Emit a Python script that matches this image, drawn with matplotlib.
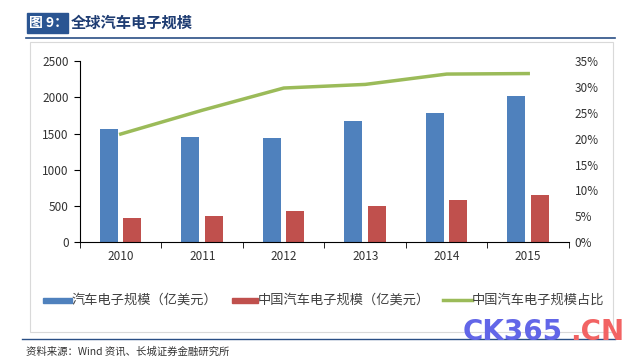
import numpy as np
import matplotlib.pyplot as plt
from matplotlib.patches import Rectangle
from matplotlib.lines import Line2D

plt.rcParams['font.family'] = ['Noto Sans CJK SC', 'DejaVu Sans']

# datos
anios = ['2010', '2011', '2012', '2013', '2014', '2015']
global_auto = [1565, 1446, 1440, 1671, 1777, 2016]
china_auto = [327, 363, 428, 501, 580, 649]
china_ratio = [20.9, 25.5, 29.8, 30.5, 32.5, 32.6]

azul = '#4F81BD'
rojo = '#C0504D'
verde = '#9BBB59'

fig = plt.figure(figsize=(6.4, 3.64), dpi=100)
ax = fig.add_axes([0.125, 0.335, 0.764, 0.497])

x = np.arange(len(anios))
ax.bar(x - 0.145, global_auto, width=0.22, color=azul)
ax.bar(x + 0.14, china_auto, width=0.22, color=rojo)
ax.set_xlim(-0.5, len(anios) - 0.5)
ax.set_ylim(0, 2500)
ax.set_yticks(range(0, 2501, 500))
ax.set_xticks(x)
ax.set_xticklabels(anios)
ax.set_xticks(np.arange(-0.5, len(anios) + 0.5, 1), minor=True)
ax.tick_params(axis='x', which='major', length=0, pad=6, labelsize=8.5, colors='#333333')
ax.tick_params(axis='x', which='minor', length=4, direction='out', color='black')
ax.tick_params(axis='y', length=4, direction='out', labelsize=8.5, colors='#333333', pad=4)
ax.tick_params(axis='y', color='black')
for s in ['top', 'right']:
    ax.spines[s].set_visible(False)
ax.spines['left'].set_color('black')
ax.spines['bottom'].set_color('black')

ax2 = ax.twinx()
ax2.plot(x, china_ratio, color=verde, linewidth=2.5)
ax2.set_ylim(0, 35)
ax2.set_yticks(range(0, 36, 5))
ax2.set_yticklabels([f'{v}%' for v in range(0, 36, 5)])
ax2.tick_params(axis='y', length=0, labelsize=8.5, colors='#333333', pad=4)
for s in ['top', 'right', 'left', 'bottom']:
    ax2.spines[s].set_visible(False)

# marco del grafico
fig.patches.append(Rectangle((30 / 640, 1 - 332 / 364), 583 / 640, 290 / 364,
                             transform=fig.transFigure, fill=False,
                             edgecolor='#D9D9D9', linewidth=0.8))

# titulo
fig.patches.append(Rectangle((27 / 640, 1 - 33 / 364), 41 / 640, 20 / 364,
                             transform=fig.transFigure, color='#2A5592'))
fig.text(29 / 640, 1 - 23 / 364, '图 9：', color='white', fontsize=10,
         fontweight='bold', va='center', ha='left')
fig.text(71 / 640, 1 - 23 / 364, '全球汽车电子规模', color='#1F3D73', fontsize=11,
         fontweight='bold', va='center', ha='left')
fig.lines.append(Line2D([26 / 640, 615 / 640], [1 - 38 / 364, 1 - 38 / 364],
                        transform=fig.transFigure, color='#2A4F85', linewidth=1.2))

# leyenda
ly = 1 - 300 / 364
fig.patches.append(Rectangle((43 / 640, ly - 2.5 / 364), 29 / 640, 5 / 364,
                             transform=fig.transFigure, color=azul))
fig.text(72 / 640, ly, '汽车电子规模（亿美元）', fontsize=9.5, va='center', color='#404040')
fig.patches.append(Rectangle((232 / 640, ly - 2.5 / 364), 26 / 640, 5 / 364,
                             transform=fig.transFigure, color=rojo))
fig.text(258 / 640, ly, '中国汽车电子规模（亿美元）', fontsize=9.5, va='center', color='#404040')
fig.lines.append(Line2D([443 / 640, 472 / 640], [ly, ly], transform=fig.transFigure,
                        color=verde, linewidth=2.5))
fig.text(472 / 640, ly, '中国汽车电子规模占比', fontsize=9.5, va='center', color='#404040')

# linea inferior y fuente
fig.lines.append(Line2D([22 / 640, 615 / 640], [1 - 339 / 364, 1 - 339 / 364],
                        transform=fig.transFigure, color='#2A4F85', linewidth=1.0))
fig.text(26 / 640, 1 - 352 / 364, '资料来源：Wind 资讯、长城证券金融研究所', fontsize=7.5,
         style='italic', va='center', color='#333333')

# marca de agua
fig.text(463 / 640, 1 - 340 / 364, 'CK365', fontsize=20, fontweight='bold',
         family='DejaVu Sans', color='#6266E8', va='baseline', ha='left', zorder=5)
fig.text(624 / 640, 1 - 340 / 364, '.CN', fontsize=20, fontweight='bold',
         family='DejaVu Sans', color='#F26363', va='baseline', ha='right', zorder=5)

fig.savefig('out.png', dpi=100)
